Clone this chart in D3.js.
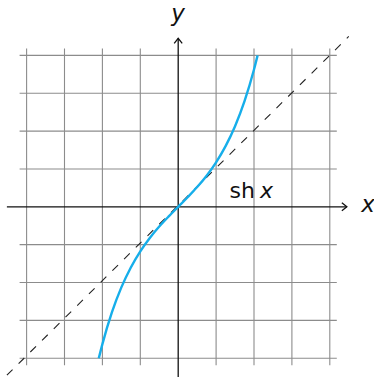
<!DOCTYPE html>
<html>
<head>
<meta charset="utf-8">
<script src="https://cdn.jsdelivr.net/npm/d3@7"></script>
<style>
  html, body { margin: 0; padding: 0; background: #fff; }
  svg { display: block; }
  text { font-family: "DejaVu Sans", sans-serif; fill: #111; }
</style>
</head>
<body>
<svg id="chart" width="374" height="377"></svg>
<script>
// Grid positions (integer units on both axes)
const gridX = [-4, -3, -2, -1, 0, 1, 2, 3, 4];
const gridY = [-4, -3, -2, -1, 0, 1, 2, 3, 4];

// Sampled values of the hyperbolic sine, clipped to |y| <= 4
const shX = [-2.095, -2, -1.75, -1.5, -1.25, -1, -0.75, -0.5, -0.25, 0,
             0.25, 0.5, 0.75, 1, 1.25, 1.5, 1.75, 2, 2.095];
const shY = [-4.0, -3.627, -2.790, -2.129, -1.602, -1.175, -0.822, -0.521, -0.253, 0,
             0.253, 0.521, 0.822, 1.175, 1.602, 2.129, 2.790, 3.627, 4.0];

// Reference line y = x
const diagX = [-4.52, 4.5];
const diagY = [-4.45, 4.5];

const svg = d3.select("#chart");

const x = d3.scaleLinear().domain([-4, 4]).range([26.6, 329.8]);
const y = d3.scaleLinear().domain([-4, 4]).range([358.2, 55.4]);

const ext = 7; // grid overhang in px

// Grid
const grid = svg.append("g").attr("stroke", "#8c8c8c").attr("stroke-width", 1.1);
grid.selectAll("line.v").data(gridX.filter(d => d !== 0)).join("line")
  .attr("class", "v")
  .attr("x1", d => x(d)).attr("x2", d => x(d))
  .attr("y1", y(4) - ext).attr("y2", y(-4) + ext);
grid.selectAll("line.h").data(gridY.filter(d => d !== 0)).join("line")
  .attr("class", "h")
  .attr("y1", d => y(d)).attr("y2", d => y(d))
  .attr("x1", x(-4) - ext).attr("x2", x(4) + ext);

// Axes with open arrowheads
const axes = svg.append("g").attr("stroke", "#111").attr("stroke-width", 1.3).attr("fill", "none");
const axL = x(-4.52), axR = x(4.45);
const ayB = y(-4.5), ayT = y(4.45);
axes.append("line").attr("x1", axL).attr("x2", axR).attr("y1", y(0)).attr("y2", y(0));
axes.append("line").attr("x1", x(0)).attr("x2", x(0)).attr("y1", ayB).attr("y2", ayT);
axes.append("path").attr("d", `M${axR - 5},${y(0) - 4} L${axR},${y(0)} L${axR - 5},${y(0) + 4}`);
axes.append("path").attr("d", `M${x(0) - 4},${ayT + 5} L${x(0)},${ayT} L${x(0) + 4},${ayT + 5}`);

// Dashed y = x
svg.append("path")
  .datum(diagX.map((d, i) => [d, diagY[i]]))
  .attr("fill", "none")
  .attr("stroke", "#222")
  .attr("stroke-width", 1.1)
  .attr("stroke-dasharray", "8,8.5")
  .attr("d", d3.line().x(d => x(d[0])).y(d => y(d[1])));

// sh x curve
svg.append("path")
  .datum(shX.map((d, i) => [d, shY[i]]))
  .attr("fill", "none")
  .attr("stroke", "#16aeea")
  .attr("stroke-width", 2.4)
  .attr("d", d3.line().curve(d3.curveMonotoneX).x(d => x(d[0])).y(d => y(d[1])));

// Labels
const lab = svg.append("text").attr("x", 229.5).attr("y", 198).attr("font-size", 22);
lab.append("tspan").text("sh");
lab.append("tspan").attr("dx", 5).attr("font-style", "italic").text("x");

svg.append("text").attr("x", 368).attr("y", 212).attr("font-size", 23)
  .attr("text-anchor", "middle").attr("font-style", "italic").text("x");
svg.append("text").attr("x", 178).attr("y", 21).attr("font-size", 23)
  .attr("text-anchor", "middle").attr("font-style", "italic").text("y");
</script>
</body>
</html>
